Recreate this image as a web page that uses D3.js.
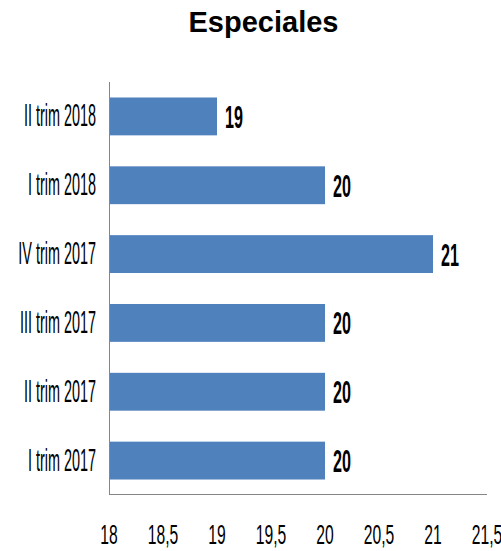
<!DOCTYPE html>
<html><head><meta charset="utf-8">
<script src="https://cdn.jsdelivr.net/npm/d3@7"></script>
<style>html,body{margin:0;padding:0;background:#fff;}svg{display:block;}</style>
</head><body>
<script>
const categories = ["II trim 2018","I trim 2018","IV trim 2017","III trim 2017","II trim 2017","I trim 2017"];
const values = [19, 20, 21, 20, 20, 20];
const tickValues = [18, 18.5, 19, 19.5, 20, 20.5, 21, 21.5];
const title = "Especiales";

const W = 501, H = 551;
const svg = d3.select("body").append("svg").attr("width", W).attr("height", H);
const font = "'Liberation Sans', Arial, sans-serif";

const x = d3.scaleLinear().domain([18, 21.5]).range([109, 487]);
const y = d3.scaleBand().domain(categories).range([82, 495]).paddingInner(0.45).paddingOuter(0.225);

svg.append("text").attr("x", 263.5).attr("y", 32).attr("text-anchor", "middle")
  .attr("font-family", font).attr("font-weight", "bold").attr("font-size", 29).attr("fill", "#000")
  .text(title);

svg.selectAll("rect.bar").data(categories).enter().append("rect")
  .attr("class", "bar")
  .attr("x", x(18))
  .attr("y", d => y(d))
  .attr("width", (d, i) => x(values[i]) - x(18))
  .attr("height", y.bandwidth())
  .attr("fill", "#4f81bd");

// axes lines
svg.append("line").attr("x1", 109.5).attr("x2", 109.5).attr("y1", 82).attr("y2", 495)
  .attr("stroke", "#868686").attr("stroke-width", 1);
svg.append("line").attr("x1", 109).attr("x2", 487).attr("y1", 494.5).attr("y2", 494.5)
  .attr("stroke", "#868686").attr("stroke-width", 1);

// category labels
svg.selectAll("text.cat").data(categories).enter().append("text")
  .attr("class", "cat")
  .attr("transform", d => `translate(96,${y(d) + y.bandwidth() / 2 + 10}) scale(0.465,1)`)
  .attr("text-anchor", "end")
  .attr("font-family", font).attr("font-size", 31).attr("fill", "#000")
  .text(d => d);

// tick labels
const fmt = v => String(v).replace(".", ",");
svg.selectAll("text.tick").data(tickValues).enter().append("text")
  .attr("class", "tick")
  .attr("transform", d => `translate(${x(d)},544) scale(0.58,1)`)
  .attr("text-anchor", "middle")
  .attr("font-family", font).attr("font-size", 27).attr("fill", "#000")
  .text(fmt);

// value labels
svg.selectAll("text.val").data(categories).enter().append("text")
  .attr("class", "val")
  .attr("transform", (d, i) => `translate(${x(values[i]) + 8},${y(d) + y.bandwidth() / 2 + 11.5}) scale(0.505,1)`)
  .attr("font-family", font).attr("font-weight", "bold").attr("font-size", 32).attr("fill", "#000")
  .text((d, i) => values[i]);
</script>
</body></html>
